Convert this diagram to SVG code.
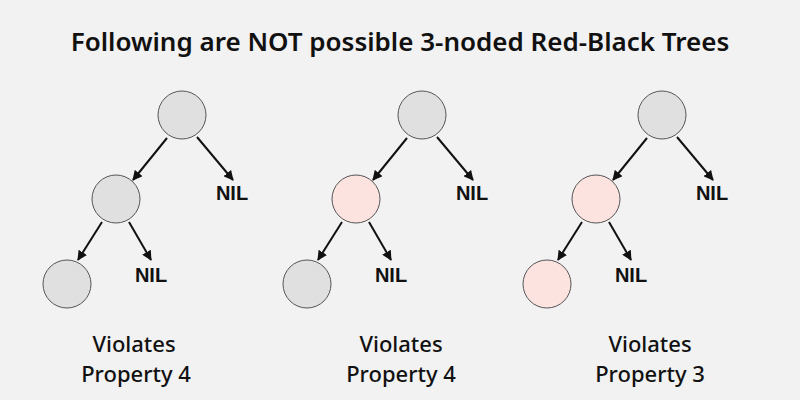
<svg xmlns="http://www.w3.org/2000/svg" width="800" height="400" viewBox="0 0 800 400">
<style>
.n{fill:#e0e0e0;stroke:#555;stroke-width:1}
.r{fill:#fde3e0;stroke:#555;stroke-width:1}
.t{font-family:"Noto Sans","Open Sans",sans-serif;fill:#111}
.nil{font-family:"Liberation Sans",Arial,sans-serif;font-weight:bold;font-size:20px;fill:#111;text-anchor:middle}
.lb{font-family:"Noto Sans","Open Sans",sans-serif;font-size:22px;fill:#111;text-anchor:middle;font-weight:500}
line{stroke:#111;stroke-width:2;marker-end:url(#a)}
</style>
<defs><marker id="a" markerWidth="10" markerHeight="10" refX="9" refY="5" orient="auto" markerUnits="userSpaceOnUse"><path d="M0,0 L10,5 L0,10 z" fill="#111"/></marker></defs>
<rect width="800" height="400" fill="#f2f2f2"/>
<text class="t" x="400" y="51" font-size="26" font-weight="600" text-anchor="middle">Following are NOT possible 3-noded Red-Black Trees</text>
<g id="connectors">
<line x1="167" y1="138" x2="133" y2="180"/><line x1="197" y1="137" x2="233" y2="180"/>
<line x1="102" y1="222" x2="78" y2="260"/><line x1="129" y1="222" x2="151" y2="260"/>
<line x1="407" y1="138" x2="373" y2="180"/><line x1="437" y1="137" x2="473" y2="180"/>
<line x1="342" y1="222" x2="318" y2="260"/><line x1="369" y1="222" x2="391" y2="260"/>
<line x1="647" y1="138" x2="613" y2="180"/><line x1="677" y1="137" x2="713" y2="180"/>
<line x1="582" y1="222" x2="558" y2="260"/><line x1="609" y1="222" x2="631" y2="260"/>
</g>
<g id="tree1">
<circle class="n" cx="182" cy="115" r="24"/><circle class="n" cx="116" cy="199" r="24"/><circle class="n" cx="67" cy="284" r="24"/>
<text class="nil" x="232" y="200">NIL</text><text class="nil" x="151" y="282">NIL</text>
<text class="lb" x="134" y="352">Violates</text><text class="lb" x="136" y="382">Property 4</text>
</g>
<g id="tree2">
<circle class="n" cx="422" cy="115" r="24"/><circle class="r" cx="356" cy="199" r="24"/><circle class="n" cx="307" cy="284" r="24"/>
<text class="nil" x="472" y="200">NIL</text><text class="nil" x="391" y="282">NIL</text>
<text class="lb" x="401" y="352">Violates</text><text class="lb" x="401" y="382">Property 4</text>
</g>
<g id="tree3">
<circle class="n" cx="662" cy="115" r="24"/><circle class="r" cx="596" cy="199" r="24"/><circle class="r" cx="547" cy="284" r="24"/>
<text class="nil" x="712" y="200">NIL</text><text class="nil" x="631" y="282">NIL</text>
<text class="lb" x="650" y="352">Violates</text><text class="lb" x="650" y="382">Property 3</text>
</g>
</svg>
